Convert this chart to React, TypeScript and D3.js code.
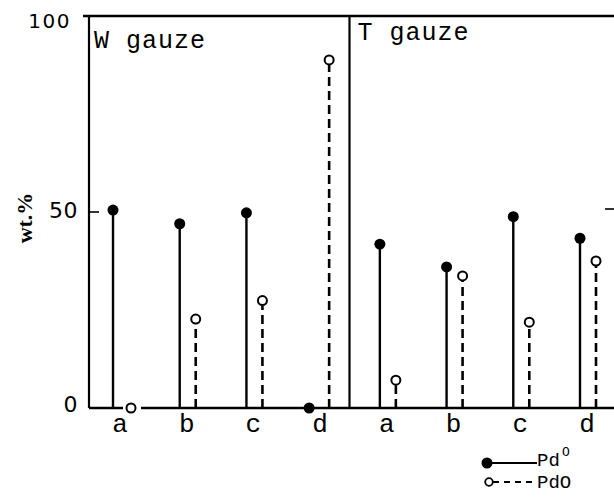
import React from "react";
import * as d3 from "d3";

const groups = ["W gauze", "T gauze"];
const categories = ["a", "b", "c", "d", "a", "b", "c", "d"];
const pdMetal = [50.5, 47, 49.8, 0, 41.8, 36, 48.8, 43.3];
const pdOxide = [0, 22.7, 27.4, 88.8, 7.1, 33.7, 21.9, 37.5];
const yTicks = [0, 50, 100];
const legendLabels = ["Pd", "PdO"];

const W = 614;
const H = 504;
const mono = "Liberation Mono, DejaVu Sans Mono, monospace";
const sans = "DejaVu Sans, sans-serif";

export default function App() {
  const y = d3.scaleLinear().domain([0, 100]).range([408, 16]);
  const x = d3
    .scalePoint<number>()
    .domain(categories.map((_, i) => i))
    .range([119, 586]);
  const axisX = 89;
  const divX = ((x(3) as number) + (x(4) as number)) / 2 - 3;
  const solidOff = -6;
  const dashOff = 10;
  const x0 = x(0) as number;
  const gapStart = x0 + dashOff - 6;
  const gapEnd = x0 + dashOff + 12;

  return (
    <svg
      width={W}
      height={H}
      style={{ position: "absolute", left: 0, top: 0, background: "#fff" }}
    >
      <rect x={0} y={0} width={W} height={H} fill="#fff" />
      {/* frame */}
      <line x1={83} x2={W} y1={y(100)} y2={y(100)} stroke="#000" strokeWidth={2.4} />
      <line x1={axisX} x2={axisX} y1={y(100)} y2={y(0)} stroke="#000" strokeWidth={2.2} />
      <line x1={divX} x2={divX} y1={y(100)} y2={y(0)} stroke="#000" strokeWidth={2.2} />
      <line x1={axisX} x2={gapStart} y1={y(0)} y2={y(0)} stroke="#000" strokeWidth={2.4} />
      <line x1={gapEnd} x2={W} y1={y(0)} y2={y(0)} stroke="#000" strokeWidth={2.4} />
      {/* ticks */}
      <line x1={axisX} x2={axisX + 10} y1={y(50)} y2={y(50)} stroke="#000" strokeWidth={1.6} />
      <line x1={W - 9} x2={W} y1={y(50) - 3} y2={y(50) - 3} stroke="#000" strokeWidth={1.6} />
      {yTicks.map((t) => (
        <text
          key={t}
          x={t === 100 ? 71 : 78}
          y={y(t) + (t === 100 ? 5 : t === 50 ? -2 : -4)}
          textAnchor="end"
          dominantBaseline="central"
          fontFamily={sans}
          fontSize={t === 100 ? 20 : 22}
          letterSpacing={t === 100 ? 1.5 : 0.5}
          fill="#000"
        >
          {t}
        </text>
      ))}
      <text
        transform={`translate(32,218) rotate(-90)`}
        textAnchor="middle"
        fontFamily="Liberation Serif, DejaVu Serif, serif"
        fontWeight="bold"
        fontSize={22}
        fill="#000"
      >
        wt.%
      </text>
      {/* group labels */}
      <text x={94} y={48} fontFamily={mono} fontSize={25} letterSpacing={1} fill="#000">
        {groups[0]}
      </text>
      <text x={divX + 8} y={40} fontFamily={mono} fontSize={25} letterSpacing={1} fill="#000">
        {groups[1]}
      </text>
      {/* category labels */}
      {categories.map((c, i) => (
        <text
          key={"c" + i}
          x={(x(i) as number) + 1}
          y={432}
          textAnchor="middle"
          fontFamily={mono}
          fontSize={26}
          fill="#000"
        >
          {c}
        </text>
      ))}
      {/* Pd metal stems */}
      {pdMetal.map((v, i) => {
        const cx = (x(i) as number) + solidOff;
        return (
          <g key={"m" + i}>
            <line x1={cx} x2={cx} y1={y(0)} y2={y(v)} stroke="#000" strokeWidth={2.4} />
            <circle cx={v === 0 ? cx - 4 : cx} cy={y(v)} r={5.5} fill="#000" />
          </g>
        );
      })}
      {/* PdO stems */}
      {pdOxide.map((v, i) => {
        const cx = (x(i) as number) + dashOff + (i === 0 ? 2 : 0);
        return (
          <g key={"o" + i}>
            {v > 0 && (
              <line
                x1={cx}
                x2={cx}
                y1={y(0)}
                y2={y(v) + 5}
                stroke="#000"
                strokeWidth={2.6}
                strokeDasharray="9,5"
              />
            )}
            <circle cx={cx} cy={y(v)} r={4.5} fill="#fff" stroke="#000" strokeWidth={2} />
          </g>
        );
      })}
      {/* legend */}
      <g>
        <circle cx={487} cy={463} r={5.5} fill="#000" />
        <line x1={487} x2={537} y1={463} y2={463} stroke="#000" strokeWidth={2} />
        <text x={537} y={466} fontFamily={mono} fontSize={19} fill="#000">
          {legendLabels[0]}
        </text>
        <text x={562} y={456} fontFamily={mono} fontSize={13} fill="#000">
          O
        </text>
        <circle cx={489} cy={482} r={3.8} fill="#fff" stroke="#000" strokeWidth={1.8} />
        <line
          x1={493}
          x2={537}
          y1={482}
          y2={482}
          stroke="#000"
          strokeWidth={2}
          strokeDasharray="6,5"
        />
        <text x={537} y={488} fontFamily={mono} fontSize={19} fill="#000">
          {legendLabels[1]}
        </text>
      </g>
    </svg>
  );
}
